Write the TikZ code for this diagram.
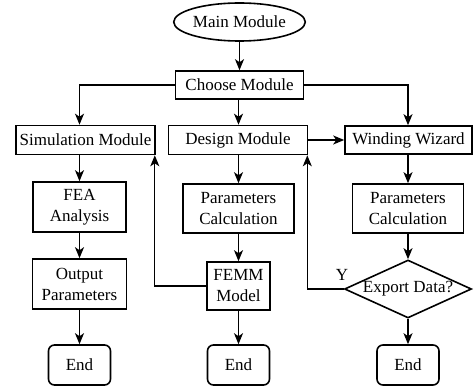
\documentclass[tikz,border=0pt]{standalone}
\usepackage{fontspec}
\setmainfont{Liberation Serif}
\usetikzlibrary{shapes.geometric,arrows.meta}
\begin{document}
\begin{tikzpicture}[x=1pt,y=-1pt,
  font=\fontsize{17}{21}\selectfont,
  box/.style={draw,line width=1.6pt,inner sep=0pt,align=center},
  endbox/.style={box,rounded corners=6pt,minimum width=62pt,minimum height=40pt},
  conn/.style={line width=1.3pt,-{Stealth[length=11pt,width=9pt,inset=3pt]}},
  plain/.style={line width=1.3pt}]
\useasboundingbox (0,0) rectangle (476,387);
\node[draw,line width=1.6pt,ellipse,inner sep=0pt,minimum width=106pt,minimum height=38pt] (main) at (239.5,22) {Main Module};
\node[box,minimum width=128pt,minimum height=28pt] (choose) at (239.5,85) {Choose Module};
\node[box,minimum width=139pt,minimum height=29pt] (sim) at (85.5,140) {Simulation Module};
\node[box,minimum width=139pt,minimum height=29pt] (design) at (238,140) {Design Module};
\node[box,minimum width=127pt,minimum height=28pt] (wind) at (408.5,140) {Winding Wizard};
\node[box,minimum width=93pt,minimum height=50pt] (fea) at (79.5,207) {FEA\\Analysis};
\node[box,minimum width=111pt,minimum height=49pt] (pc1) at (238.5,208.5) {Parameters\\Calculation};
\node[box,minimum width=111pt,minimum height=49pt] (pc2) at (408,208.5) {Parameters\\Calculation};
\node[box,minimum width=94pt,minimum height=50pt] (out) at (79.5,284) {Output\\Parameters};
\node[box,minimum width=63pt,minimum height=48pt] (femm) at (238.5,286) {FEMM\\Model};
\node[draw,line width=1.6pt,diamond,inner sep=0pt,aspect=2.19,minimum width=127pt,minimum height=58pt] (export) at (408,289) {Export Data?};
\node[endbox] (end1) at (79.5,365) {End};
\node[endbox] (end2) at (238.5,365) {End};
\node[endbox] (end3) at (408,365) {End};
\node (ylab) at (342,275) {Y};
\draw[conn] (main.south) -- (choose.north);
\draw[conn] (choose.west) -| (sim.north -| fea.north);
\draw[conn] (choose.south -| pc1.north) -- (design.north -| pc1.north);
\draw[conn] (choose.east) -| (wind.north -| pc2.north);
\draw[conn] (sim.south -| fea.north) -- (fea.north);
\draw[conn] (fea.south) -- (out.north);
\draw[conn] (out.south) -- (end1.north);
\draw[conn] (design.south -| pc1.north) -- (pc1.north);
\draw[conn] (pc1.south) -- (femm.north);
\draw[conn] (femm.south) -- (end2.north);
\draw[conn] (design.east) -- (wind.west);
\draw[conn] (wind.south -| pc2.north) -- (pc2.north);
\draw[conn] (pc2.south) -- (export.north);
\draw[conn] (export.south) -- (end3.north);
\draw[conn] (femm.west) -| ([xshift=-1pt]sim.south east);
\draw[conn] (export.west) -| ([xshift=-1pt]design.south east);
\end{tikzpicture}
\end{document}
